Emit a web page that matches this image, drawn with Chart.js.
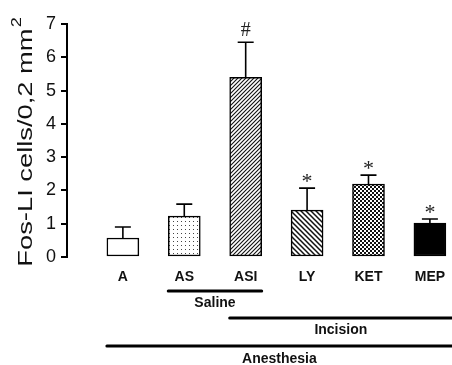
<!DOCTYPE html>
<html><head><meta charset="utf-8">
<script src="https://cdn.jsdelivr.net/npm/chart.js@4/dist/chart.umd.min.js"></script>
<style>html,body{margin:0;padding:0;background:#fff;overflow:hidden}</style>
</head><body>
<canvas id="c" width="452" height="365" style="width:452px;height:365px;display:block"></canvas>
<script>
// ---- data ----
const categories = ['A', 'AS', 'ASI', 'LY', 'KET', 'MEP'];
const means = [0.57, 1.23, 5.40, 1.41, 2.19, 1.02];
const errors = [0.33, 0.36, 1.05, 0.66, 0.27, 0.12];
const markers = ['', '', '#', '*', '*', '*'];
const fills = ['white', 'dots', 'fwd', 'back', 'check', 'black'];
const yTicks = [0, 1, 2, 3, 4, 5, 6, 7];
const groupNames = ['Saline', 'Incision', 'Anesthesia'];
const groupFrom = [1, 2, 0];
const groupTo = [2, 5, 5];
const yTitle = 'Fos-LI cells/0,2 mm';
const yTitleSup = '2';

const SANS = '"Liberation Sans", Arial, sans-serif';
const SERIF = '"Liberation Serif", "Times New Roman", serif';
const BAR_W = 32;

function makeFill(kind) {
  if (kind === 'white') return '#ffffff';
  if (kind === 'black') return '#000000';
  const c = document.createElement('canvas');
  const g = c.getContext('2d');
  let s = 4;
  if (kind === 'dots') {
    s = 4; c.width = c.height = s;
    g.fillStyle = '#fff'; g.fillRect(0, 0, s, s);
    g.fillStyle = '#444'; g.fillRect(1, 1, 1, 1);
  } else if (kind === 'fwd' || kind === 'back') {
    s = kind === 'fwd' ? 4 : 5; c.width = c.height = s;
    g.fillStyle = '#fff'; g.fillRect(0, 0, s, s);
    g.strokeStyle = '#111'; g.lineWidth = kind === 'fwd' ? 1.1 : 1.5;
    g.beginPath();
    if (kind === 'fwd') {
      g.moveTo(-1, s + 1); g.lineTo(s + 1, -1);
      g.moveTo(-1, 1); g.lineTo(1, -1);
      g.moveTo(s - 1, s + 1); g.lineTo(s + 1, s - 1);
    } else {
      g.moveTo(-1, -1); g.lineTo(s + 1, s + 1);
      g.moveTo(-1, s - 1); g.lineTo(1, s + 1);
      g.moveTo(s - 1, -1); g.lineTo(s + 1, 1);
    }
    g.stroke();
  } else if (kind === 'check') {
    s = 4; c.width = c.height = s;
    g.fillStyle = '#fff'; g.fillRect(0, 0, s, s);
    g.fillStyle = '#111'; g.fillRect(0, 0, 2, 2); g.fillRect(2, 2, 2, 2);
  }
  return g.createPattern(c, 'repeat');
}

const errorBarPlugin = {
  id: 'errorBars',
  afterDatasetsDraw(chart) {
    const { ctx, scales: { x, y } } = chart;
    ctx.save();
    ctx.strokeStyle = '#000';
    ctx.lineWidth = 1.6;
    categories.forEach((cat, i) => {
      const xp = x.getPixelForValue(i);
      const y0 = y.getPixelForValue(means[i]);
      const y1 = y.getPixelForValue(means[i] + errors[i]);
      ctx.beginPath();
      ctx.moveTo(xp, y0); ctx.lineTo(xp, y1);
      ctx.moveTo(xp - 8, y1); ctx.lineTo(xp + 8, y1);
      ctx.stroke();
      const m = markers[i];
      if (m) {
        ctx.font = (m === '#' ? '20px ' : '22px ') + SERIF;
        ctx.fillStyle = '#222';
        ctx.textAlign = 'center';
        ctx.textBaseline = 'alphabetic';
        const mt = ctx.measureText(m);
        const asc = mt.actualBoundingBoxAscent, desc = mt.actualBoundingBoxDescent;
        const h = asc + desc;
        const cy = y1 - 6 - h / 2;
        ctx.fillText(m, xp, cy + (asc - desc) / 2);
      }
    });
    ctx.restore();
  }
};

const groupPlugin = {
  id: 'groups',
  afterDraw(chart) {
    const { ctx, chartArea, scales: { x, y } } = chart;
    const base = y.getPixelForValue(0);
    const lineY = [base + 34, base + 61, base + 89];
    ctx.save();
    groupNames.forEach((name, k) => {
      const x0 = x.getPixelForValue(groupFrom[k]) - BAR_W / 2;
      const x1 = groupTo[k] === categories.length - 1 ? chartArea.right : x.getPixelForValue(groupTo[k]) + BAR_W / 2;
      const ly = lineY[k];
      ctx.strokeStyle = '#000';
      ctx.lineWidth = 3;
      ctx.lineCap = 'round';
      ctx.beginPath(); ctx.moveTo(x0, ly); ctx.lineTo(x1, ly); ctx.stroke();
      ctx.font = 'bold 14px ' + SANS;
      ctx.fillStyle = '#111';
      ctx.textAlign = 'center';
      ctx.textBaseline = 'middle';
      ctx.fillText(name, (x0 + x1) / 2, ly + 12 + (k === 2 ? 1 : 0));
    });
    // y-axis title
    const cy = (chartArea.top + chartArea.bottom) / 2 + 2;
    ctx.translate(32, cy);
    ctx.rotate(-Math.PI / 2);
    ctx.scale(1.3, 1);
    ctx.fillStyle = '#111';
    ctx.textBaseline = 'alphabetic';
    ctx.textAlign = 'left';
    ctx.font = '21px ' + SANS;
    const w = ctx.measureText(yTitle).width;
    ctx.font = '14px ' + SANS;
    const ws = ctx.measureText(yTitleSup).width;
    const start = -(w + ws) / 2;
    ctx.font = '21px ' + SANS;
    ctx.fillText(yTitle, start, 0);
    ctx.font = '14px ' + SANS;
    ctx.fillText(yTitleSup, start + w + 1, -11);
    ctx.restore();
  }
};

new Chart(document.getElementById('c'), {
  type: 'bar',
  data: {
    datasets: [{
      data: categories.map((c, i) => ({ x: i, y: means[i] })),
      backgroundColor: fills.map(makeFill),
      borderColor: '#000',
      borderWidth: 1.5,
      borderSkipped: false,
      barThickness: BAR_W
    }]
  },
  options: {
    responsive: false,
    animation: false,
    events: [],
    layout: { padding: { top: 24, right: 0, left: 0, bottom: 0 } },
    plugins: { legend: { display: false }, tooltip: { enabled: false } },
    scales: {
      x: {
        type: 'linear',
        offset: false,
        min: -0.91,
        max: 5.36,
        afterBuildTicks(s) { s.ticks = categories.map((c, i) => ({ value: i })); },
        afterFit(s) { s.height = 108; s.paddingLeft = 0; s.paddingRight = 0; },
        grid: { display: false, drawTicks: false, offset: false },
        border: { display: false },
        ticks: {
          padding: 12,
          autoSkip: false,
          maxRotation: 0,
          color: '#111',
          font: { family: SANS, size: 14, weight: 'bold' },
          callback: (v) => categories[v] !== undefined ? categories[v] : ''
        }
      },
      y: {
        min: 0,
        max: 7,
        afterBuildTicks(s) { s.ticks = yTicks.map(v => ({ value: v })); },
        afterFit(s) { s.width = 67; s.paddingTop = 0; s.paddingBottom = 0; },
        grid: { drawOnChartArea: false, drawTicks: true, tickLength: 6, color: '#000', lineWidth: 2 },
        border: { display: true, color: '#000', width: 2 },
        ticks: {
          padding: 5,
          color: '#111',
          font: { family: SANS, size: 18 }
        }
      }
    }
  },
  plugins: [errorBarPlugin, groupPlugin]
});
</script>
</body></html>
